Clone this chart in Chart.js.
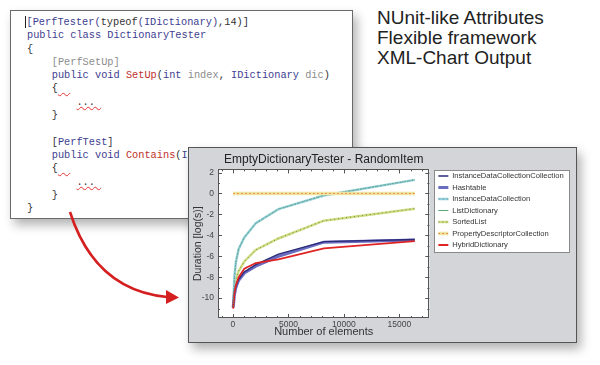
<!DOCTYPE html>
<html>
<head>
<meta charset="utf-8">
<script src="https://cdn.jsdelivr.net/npm/chart.js@4.4.1/dist/chart.umd.min.js"></script>
<style>
  body { margin: 0; width: 600px; height: 365px; background: #fff; position: relative; overflow: hidden; }
  #code { position: absolute; left: 10px; top: 10px; width: 341px; height: 207px; border: 1px solid #6a6a6a; background: #fff; box-shadow: 4px 6px 10px rgba(0,0,0,0.3); }
  #code pre { position: absolute; left: 16px; top: 5px; margin: 0; font-family: 'Liberation Mono', 'DejaVu Sans Mono', monospace; font-size: 10.3px; line-height: 13.3px; color: #333; }
  .k { color: #3d3d8f; }
  .g { color: #8c8c8c; }
  .r { color: #c0302a; }
  .sq { text-decoration: underline wavy #e03030; text-decoration-thickness: 1px; }
  .cur { border-left: 1.5px solid #222; margin-left: -2px; padding-left: 0.5px; }
  #blurb { position: absolute; left: 377px; top: 8px; font-family: 'Liberation Sans', Arial, sans-serif; font-size: 19px; line-height: 20px; color: #222; }
  #arrow { position: absolute; left: 0; top: 0; }
  #panel { position: absolute; left: 188px; top: 147px; width: 387px; height: 194px; border: 1px solid #555; background: #d4d5d9; box-shadow: 4px 6px 10px rgba(0,0,0,0.3); }
  #panel canvas { position: absolute; left: 0; top: 0; }
</style>
</head>
<body>
<div id="code"><pre><span class="cur"></span><span class="k">[PerfTester(</span>typeof<span class="k">(IDictionary)</span>,14)]
<span class="k">public class DictionaryTester</span>
{
    <span class="g">[PerfSetUp]</span>
    <span class="k">public void</span> <span class="r">SetUp</span>(<span class="k">int</span> <span class="g">index</span>, <span class="k">IDictionary</span> <span class="g">dic</span>)
    {<span class="sq">  </span>
        <span class="sq">... </span>
    }

    [<span class="k">PerfTest</span>]
    <span class="k">public void</span> <span class="r">Contains</span>(<span class="k">IDictionary</span> <span class="g">dic</span>)
    {<span class="sq">  </span>
        <span class="sq">... </span>
    }
}</pre></div>
<div id="blurb">NUnit-like Attributes<br>Flexible framework<br>XML-Chart Output</div>
<svg id="arrow" width="600" height="365">
  <path d="M70 212 Q95 290 167 297" fill="none" stroke="#d42020" stroke-width="2.6"/>
  <path d="M166 290 L179 297.5 L166 304 Z" fill="#d42020"/>
</svg>
<div id="panel"><canvas id="chart" width="387" height="194"></canvas></div>
<script>
const sizes = [16, 128, 256, 512, 1024, 2048, 4096, 8192, 16384];
const seriesNames = ['InstanceDataCollectionCollection', 'Hashtable', 'InstanceDataCollection', 'ListDictionary', 'SortedList', 'PropertyDescriptorCollection', 'HybridDictionary'];
const idcc = [-10.9, -9.6, -8.9, -8.2, -7.5, -6.8, -5.8, -4.6, -4.4];
const hashtable = [-10.9, -9.7, -9.0, -8.3, -7.6, -6.95, -6.0, -4.65, -4.45];
const idc = [-10.8, -8.0, -6.6, -5.3, -4.2, -2.85, -1.5, -0.2, 1.3];
const listDict = [-10.8, -8.0, -6.6, -5.3, -4.2, -2.9, -1.5, -0.15, 1.3];
const sortedList = [-10.8, -9.0, -8.2, -7.4, -6.5, -5.4, -4.3, -2.6, -1.45];
const propDesc = [0, 0, 0, 0, 0, 0, 0, 0, 0];
const hybrid = [-11.0, -9.5, -8.8, -8.0, -7.2, -6.65, -6.3, -5.25, -4.55];
const xTickValues = [0, 5000, 10000, 15000];
const yTickValues = [2, 0, -2, -4, -6, -8, -10];

Chart.defaults.font.family = "'Liberation Sans', Arial, sans-serif";
Chart.defaults.color = '#444';

const legendFont = 7.6;
const toPoints = ys => sizes.map((x, i) => ({ x: x, y: ys[i] }));

// colour, width, dash, overlay (second stroke on top), draw order
const looks = [
    { c: '#2a2a78', w: 1.3, order: 3 },
    { c: '#6a6cc0', w: 3, order: 4 },
    { c: '#9ad4dc', w: 2.5, order: 5, over: '#6aa4b4', overDash: [2, 2] },
    { c: '#5aa878', w: 1, dash: [1, 1.5], order: 1 },
    { c: '#cfdc80', w: 2.5, order: 6, over: '#7a8050', overDash: [1, 3] },
    { c: '#f0e2a0', w: 3.5, order: 0, over: '#e07a30', overDash: [1.5, 2.5] },
    { c: '#e02424', w: 1.8, order: 2 }
];
const allSeries = [idcc, hashtable, idc, listDict, sortedList, propDesc, hybrid];

const datasets = allSeries.map((ys, i) => ({
    label: seriesNames[i],
    data: toPoints(ys),
    borderColor: looks[i].c,
    backgroundColor: looks[i].c,
    borderWidth: looks[i].w,
    borderDash: looks[i].dash || [],
    order: looks[i].order,
    overlay: looks[i].over,
    overlayDash: looks[i].overDash,
    pointRadius: 0,
    tension: 0
}));

const panelPlugin = {
    id: 'panel',
    beforeDraw(chart) {
        const { ctx, chartArea: a, legend } = chart;
        ctx.save();
        ctx.fillStyle = '#fff';
        ctx.fillRect(a.left, a.top, a.right - a.left, a.bottom - a.top);
        const hb = legend.legendHitBoxes;
        if (hb && hb.length) {
            const l = Math.round(Math.min(...hb.map(b => b.left)) - 4);
            const r = Math.round(Math.max(...hb.map(b => b.left + b.width)) + 5);
            const t = Math.round(hb[0].top - 2.5);
            const last = hb[hb.length - 1];
            const b = Math.round(last.top + last.height + 3);
            ctx.fillRect(l, t, r - l, b - t);
            ctx.strokeStyle = '#8a8a8a';
            ctx.lineWidth = 1;
            ctx.strokeRect(l + 0.5, t + 0.5, r - l, b - t);
        }
        ctx.restore();
    },
    afterDatasetDraw(chart, args) {
        const ds = chart.data.datasets[args.index];
        if (!ds.overlay) return;
        const { ctx, chartArea: a } = chart;
        const pts = args.meta.data;
        ctx.save();
        ctx.beginPath();
        ctx.rect(a.left, a.top, a.right - a.left, a.bottom - a.top);
        ctx.clip();
        ctx.strokeStyle = ds.overlay;
        ctx.lineWidth = 1;
        ctx.setLineDash(ds.overlayDash);
        ctx.beginPath();
        pts.forEach((p, i) => i ? ctx.lineTo(p.x, p.y) : ctx.moveTo(p.x, p.y));
        ctx.stroke();
        ctx.restore();
    },
    afterDatasetsDraw(chart) {
        const { ctx, chartArea: a, scales } = chart;
        ctx.save();
        ctx.strokeStyle = '#555';
        ctx.lineWidth = 1;
        ctx.strokeRect(Math.round(a.left) + 0.5, Math.round(a.top) + 0.5, Math.round(a.right - a.left) - 1, Math.round(a.bottom - a.top) - 1);
        ctx.beginPath();
        for (let v = -1000; v <= scales.x.max; v += 1000) {
            const px = Math.round(scales.x.getPixelForValue(v)) + 0.5;
            const len = v % 5000 === 0 ? 4 : 2;
            ctx.moveTo(px, a.bottom); ctx.lineTo(px, a.bottom - len);
            ctx.moveTo(px, a.top); ctx.lineTo(px, a.top + len);
        }
        for (let v = -11; v <= scales.y.max; v += 1) {
            const py = Math.round(scales.y.getPixelForValue(v)) + 0.5;
            const len = v % 2 === 0 ? 4 : 2;
            ctx.moveTo(a.left, py); ctx.lineTo(a.left + len, py);
            ctx.moveTo(a.right, py); ctx.lineTo(a.right - len, py);
        }
        ctx.stroke();
        ctx.restore();
    },
    afterDraw(chart) {
        const { ctx, legend } = chart;
        legend.legendHitBoxes.forEach((hb, i) => {
            const ds = chart.data.datasets[legend.legendItems[i].datasetIndex];
            if (!ds.overlay) return;
            ctx.save();
            ctx.strokeStyle = ds.overlay;
            ctx.lineWidth = 1;
            ctx.setLineDash(ds.overlayDash);
            ctx.beginPath();
            const y = hb.top + legendFont / 2;
            ctx.moveTo(hb.left, y);
            ctx.lineTo(hb.left + 10, y);
            ctx.stroke();
            ctx.restore();
        });
    }
};

new Chart(document.getElementById('chart'), {
    type: 'line',
    data: { datasets: datasets },
    plugins: [panelPlugin],
    options: {
        responsive: false,
        animation: false,
        devicePixelRatio: 1,
        layout: { padding: { top: 0, right: 2.4, bottom: 0, left: 0 } },
        plugins: {
            title: {
                display: true,
                text: 'EmptyDictionaryTester - RandomItem',
                fullSize: false,
                color: '#222',
                font: { size: 12, weight: 'normal' },
                padding: { top: 4, bottom: 3 }
            },
            legend: {
                position: 'right',
                align: 'start',
                maxWidth: 200,
                title: { display: true, text: '', font: { size: 10, lineHeight: 1.2 }, padding: { top: 8.3, bottom: 0 } },
                labels: {
                    usePointStyle: true,
                    pointStyle: 'line',
                    pointStyleWidth: 10,
                    padding: 3.9,
                    color: '#333',
                    font: { size: legendFont },
                    sort: (a, b) => a.datasetIndex - b.datasetIndex
                }
            },
            tooltip: { enabled: false }
        },
        scales: {
            x: {
                type: 'linear',
                min: -1350,
                max: 17700,
                grid: { display: false, drawTicks: false },
                border: { display: false },
                afterBuildTicks: s => { s.ticks = xTickValues.map(v => ({ value: v })); },
                afterFit: s => { s.height = 24; },
                ticks: { padding: 2, maxRotation: 0, font: { size: 8.5 }, color: '#444', callback: v => String(v) },
                title: { display: true, text: 'Number of elements', color: '#333', font: { size: 11 }, padding: { top: 0, bottom: 3.4 } }
            },
            y: {
                min: -11.9,
                max: 2.3,
                grid: { display: false, drawTicks: false },
                border: { display: false },
                afterBuildTicks: s => { s.ticks = yTickValues.map(v => ({ value: v })); },
                afterFit: s => { s.width = 29; },
                ticks: { padding: 4, font: { size: 8.5 }, color: '#444', callback: v => String(v) },
                title: { display: true, text: 'Duration [log(s)]', color: '#333', font: { size: 10.5 }, padding: { top: 2.7, bottom: 0 } }
            },
            y2: {
                position: 'right',
                display: true,
                grid: { display: false, drawTicks: false },
                border: { display: false },
                ticks: { display: false },
                afterFit: s => { s.width = 5.1; }
            }
        }
    }
});
</script>
</body>
</html>
